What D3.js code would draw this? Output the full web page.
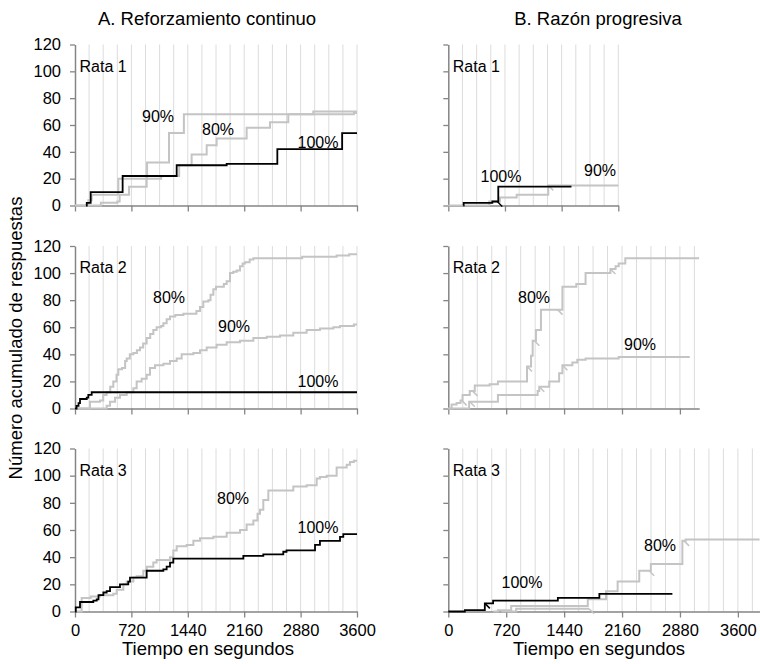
<!DOCTYPE html>
<html>
<head>
<meta charset="utf-8">
<script src="https://cdn.jsdelivr.net/npm/d3@7"></script>
<style>
  body { margin: 0; background: #fff; }
  svg text { font-family: "Liberation Sans", Arial, sans-serif; fill: #000; }
</style>
</head>
<body>
<svg id="chart" width="760" height="664"></svg>
<script>
// ---- Tick values ----
const timeTicks = [0, 720, 1440, 2160, 2880, 3600];
const countTicks = [0, 20, 40, 60, 80, 100, 120];
const gridStep = 180;

// ---- A. Reforzamiento continuo: cumulative responses [time (s), count] ----
const contR1_100 = [[140,0],[150,2],[200,10],[608,22],[1298,30],[1936,31],[2583,42],[3410,54],[3600,54]];
const contR1_90  = [[0,0],[157,0],[170,4],[213,8],[553,20],[920,32],[1200,54],[1390,68],[3560,69],[3600,69]];
const contR1_80  = [[0,0],[300,0],[330,2],[540,3],[570,8],[690,14],[915,20],[1100,22],[1330,30],[1489,38],[1681,45],[1808,50],[2191,58],[2489,62],[2723,68],[3042,70],[3600,70]];

const contR2_100 = [[0,0],[20,2],[45,4],[64,7],[150,8],[170,10],[213,12],[3600,12]];
const contR2_80  = [[0,0],[170,0],[191,5],[319,6],[360,10],[404,12],[450,16],[489,20],[530,25],[553,29],[600,30],[640,35],[660,37],[700,40],[745,41],[790,43],[830,45],[870,48],[915,52],[960,55],[1000,58],[1042,60],[1100,61],[1128,63],[1170,66],[1213,68],[1280,69],[1383,70],[1550,72],[1596,75],[1638,79],[1702,80],[1730,84],[1766,88],[1800,90],[1900,92],[1936,94],[1979,100],[2020,101],[2064,102],[2106,105],[2140,107],[2170,108],[2230,110],[2277,111],[2900,112],[3340,113],[3500,114],[3600,114]];
const contR2_90  = [[0,0],[362,0],[404,2],[447,5],[511,8],[574,10],[660,12],[745,15],[787,20],[851,22],[915,25],[957,30],[1021,32],[1128,33],[1213,35],[1298,37],[1362,40],[1511,41],[1596,43],[1681,45],[1808,47],[1936,49],[2106,50],[2277,52],[2447,53],[2617,54],[2787,56],[2957,58],[3127,59],[3298,60],[3383,61],[3560,62],[3600,62]];

const contR3_100 = [[0,0],[10,3],[64,7],[234,8],[277,9],[300,12],[362,14],[404,15],[447,18],[574,20],[680,22],[702,25],[915,30],[1128,31],[1170,33],[1213,36],[1255,39],[2149,41],[2404,42],[2659,44],[2700,45],[3064,49],[3127,52],[3383,55],[3425,57],[3600,57]];
const contR3_80  = [[0,0],[85,10],[200,11],[319,12],[489,13],[532,16],[617,20],[660,22],[745,25],[787,26],[872,30],[915,33],[1000,36],[1042,38],[1213,40],[1255,45],[1298,48],[1425,49],[1511,52],[1596,54],[1766,55],[1936,58],[2106,60],[2191,64],[2277,67],[2330,72],[2362,75],[2404,82],[2468,89],[2787,92],[2957,93],[3085,98],[3127,99],[3213,100],[3340,106],[3468,108],[3510,110],[3560,111],[3600,111]];

// ---- B. Razón progresiva ----
const progR1_100 = [[191,0],[195,2],[508,2],[560,3],[625,3],[635,14],[1565,14]];
const progR1_90  = [[0,0],[508,0],[520,3],[615,3],[657,6],[869,8],[1270,15],[2160,15]];
const progR2_80  = [[0,0],[41,3],[103,4],[152,6],[177,10],[267,13],[329,17],[514,18],[617,20],[967,20],[979,31],[1029,39],[1049,50],[1090,58],[1152,73],[1419,90],[1592,92],[1707,100],[2016,103],[2080,105],[2119,107],[2201,111],[3119,111]];
const progR2_90  = [[0,0],[259,5],[617,10],[1111,13],[1131,16],[1255,20],[1378,26],[1419,32],[1543,34],[1604,36],[1707,37],[2119,38],[3003,38]];
const progR3_100 = [[0,0],[206,1],[454,6],[557,8],[1362,10],[1878,13],[2786,13]];
const progR3_80  = [[560,0],[617,1],[782,4],[1707,4],[1734,9],[1961,15],[2105,22],[2374,30],[2518,35],[2910,52],[2952,53],[3870,53]];
const progR3_90  = [[660,0],[843,2],[1750,2]];

// Reinforcer marks (time, s) drawn as short diagonal pips on the record
const progR1_100_pips = [622];
const progR1_90_pips  = [1270];
const progR2_80_pips  = [166, 300, 979, 1070, 1358, 2016];
const progR2_90_pips  = [267, 1131, 1419];
const progR3_100_pips = [454];
const progR3_80_pips  = [2497, 2931];
const progR3_90_pips  = [1750];

// ---- Layout ----
const svg = d3.select("#chart");
const BLACK = "#000000", GREY = "#c4c4c4";

const rows = [
  { y0: 205.5, y1: 44.5 },
  { y0: 408.5, y1: 246 },
  { y0: 611.5, y1: 448.5 }
];

const panels = [
  { row: 0, x0: 75, x1: 357, tmax: 3600, yLabels: true, xLabels: false, rat: "Rata 1",
    series: [ { d: contR1_80, c: GREY }, { d: contR1_90, c: GREY }, { d: contR1_100, c: BLACK } ],
    labels: [ { t: "90%", x: 158, y: 116 }, { t: "80%", x: 218, y: 129 }, { t: "100%", x: 318, y: 142 } ] },
  { row: 1, x0: 75, x1: 357, tmax: 3600, yLabels: true, xLabels: false, rat: "Rata 2",
    series: [ { d: contR2_80, c: GREY }, { d: contR2_90, c: GREY }, { d: contR2_100, c: BLACK } ],
    labels: [ { t: "80%", x: 169, y: 297 }, { t: "90%", x: 234, y: 326 }, { t: "100%", x: 318, y: 381 } ] },
  { row: 2, x0: 75, x1: 357, tmax: 3600, yLabels: true, xLabels: true, rat: "Rata 3",
    series: [ { d: contR3_80, c: GREY }, { d: contR3_100, c: BLACK } ],
    labels: [ { t: "80%", x: 233, y: 498 }, { t: "100%", x: 318, y: 527 } ] },
  { row: 0, x0: 448.3, x1: 618.3, tmax: 2160, yLabels: false, xLabels: false, rat: "Rata 1",
    series: [ { d: progR1_90, c: GREY, pips: progR1_90_pips }, { d: progR1_100, c: BLACK, pips: progR1_100_pips } ],
    labels: [ { t: "100%", x: 501, y: 176 }, { t: "90%", x: 600, y: 170 } ] },
  { row: 1, x0: 448.3, x1: 699.2, tmax: 3120, yLabels: false, xLabels: false, rat: "Rata 2",
    series: [ { d: progR2_90, c: GREY, pips: progR2_90_pips }, { d: progR2_80, c: GREY, pips: progR2_80_pips } ],
    labels: [ { t: "80%", x: 534, y: 297 }, { t: "90%", x: 640, y: 344 } ] },
  { row: 2, x0: 448.3, x1: 760, tmax: 3875, yLabels: false, xLabels: true, rat: "Rata 3",
    series: [ { d: progR3_90, c: GREY, pips: progR3_90_pips }, { d: progR3_80, c: GREY, pips: progR3_80_pips }, { d: progR3_100, c: BLACK, pips: progR3_100_pips } ],
    labels: [ { t: "100%", x: 522, y: 582 }, { t: "80%", x: 660, y: 545 } ] }
];

panels.forEach(p => {
  const r = rows[p.row];
  const x = d3.scaleLinear().domain([0, p.tmax]).range([p.x0, p.x1]);
  const y = d3.scaleLinear().domain([0, 120]).range([r.y0, r.y1]);
  const g = svg.append("g");

  // vertical gridlines every 180 s
  const grid = d3.range(gridStep, p.tmax + 1, gridStep);
  g.append("g").selectAll("line").data(grid).join("line")
    .attr("x1", d => x(d)).attr("x2", d => x(d))
    .attr("y1", y(0)).attr("y2", y(120))
    .attr("stroke", "#dcdcdc").attr("stroke-width", 1);

  // x axis
  const xAxis = d3.axisBottom(x)
    .tickValues(timeTicks.filter(t => t <= p.tmax))
    .tickSize(6).tickSizeOuter(0).tickPadding(5)
    .tickFormat(p.xLabels ? d3.format("d") : () => "");
  const gx = g.append("g").attr("transform", `translate(0,${y(0)})`).call(xAxis);
  gx.select(".domain").attr("stroke", "#858585").attr("stroke-width", 1.3);
  gx.selectAll(".tick line").attr("stroke", "#858585").attr("stroke-width", 1.3);
  gx.selectAll(".tick text").attr("font-size", 16.5).attr("dy", "0.82em")
    .attr("font-family", "'Liberation Sans', Arial, sans-serif").attr("fill", "#000");

  // y axis
  const yAxis = d3.axisLeft(y).tickValues(countTicks)
    .tickSize(5).tickSizeOuter(0).tickPadding(9)
    .tickFormat(p.yLabels ? d3.format("d") : () => "");
  const gy = g.append("g").attr("transform", `translate(${p.x0},0)`).call(yAxis);
  gy.select(".domain").attr("stroke", "#858585").attr("stroke-width", 1.5);
  gy.selectAll(".tick line").attr("stroke", "#858585").attr("stroke-width", 1.3);
  gy.selectAll(".tick text").attr("font-size", 16.5)
    .attr("font-family", "'Liberation Sans', Arial, sans-serif").attr("fill", "#000");

  // cumulative records
  const line = d3.line().x(d => x(d[0])).y(d => y(d[1])).curve(d3.curveStepAfter);
  p.series.forEach(s => {
    g.append("path").datum(s.d)
      .attr("d", line)
      .attr("fill", "none")
      .attr("stroke", s.c)
      .attr("stroke-width", s.c === BLACK ? 1.8 : 2)
      .attr("stroke-linejoin", "miter");
    if (s.pips) {
      const bis = d3.bisector(d => d[0]).right;
      g.append("g").selectAll("line").data(s.pips).join("line")
        .attr("x1", t => x(t))
        .attr("y1", t => y(s.d[Math.max(0, bis(s.d, t) - 1)][1]))
        .attr("x2", t => x(t) + 5)
        .attr("y2", t => y(s.d[Math.max(0, bis(s.d, t) - 1)][1]) + 5)
        .attr("stroke", s.c).attr("stroke-width", 1.5);
    }
  });

  // rat label
  g.append("text").attr("x", p.x0 + 4.5).attr("y", y(120) + 21.5)
    .attr("dy", "0.35em").attr("font-size", 16).text(p.rat);

  // condition labels
  g.selectAll(".lab").data(p.labels).join("text")
    .attr("x", d => d.x).attr("y", d => d.y)
    .attr("text-anchor", "middle").attr("dy", "0.35em")
    .attr("font-size", 16).text(d => d.t);
});

// column titles
svg.append("text").attr("x", 207).attr("y", 19).attr("dy", "0.35em")
  .attr("text-anchor", "middle").attr("font-size", 18.5).text("A. Reforzamiento continuo");
svg.append("text").attr("x", 598).attr("y", 19).attr("dy", "0.35em")
  .attr("text-anchor", "middle").attr("font-size", 18.5).text("B. Razón progresiva");

// x axis titles
svg.append("text").attr("x", 208).attr("y", 649).attr("dy", "0.35em")
  .attr("text-anchor", "middle").attr("font-size", 18.5).text("Tiempo en segundos");
svg.append("text").attr("x", 599).attr("y", 649).attr("dy", "0.35em")
  .attr("text-anchor", "middle").attr("font-size", 18.5).text("Tiempo en segundos");

// y axis title
svg.append("text").attr("transform", "translate(16,338) rotate(-90)")
  .attr("dy", "0.35em").attr("text-anchor", "middle").attr("font-size", 18.5)
  .text("Número acumulado de respuestas");
</script>
</body>
</html>
